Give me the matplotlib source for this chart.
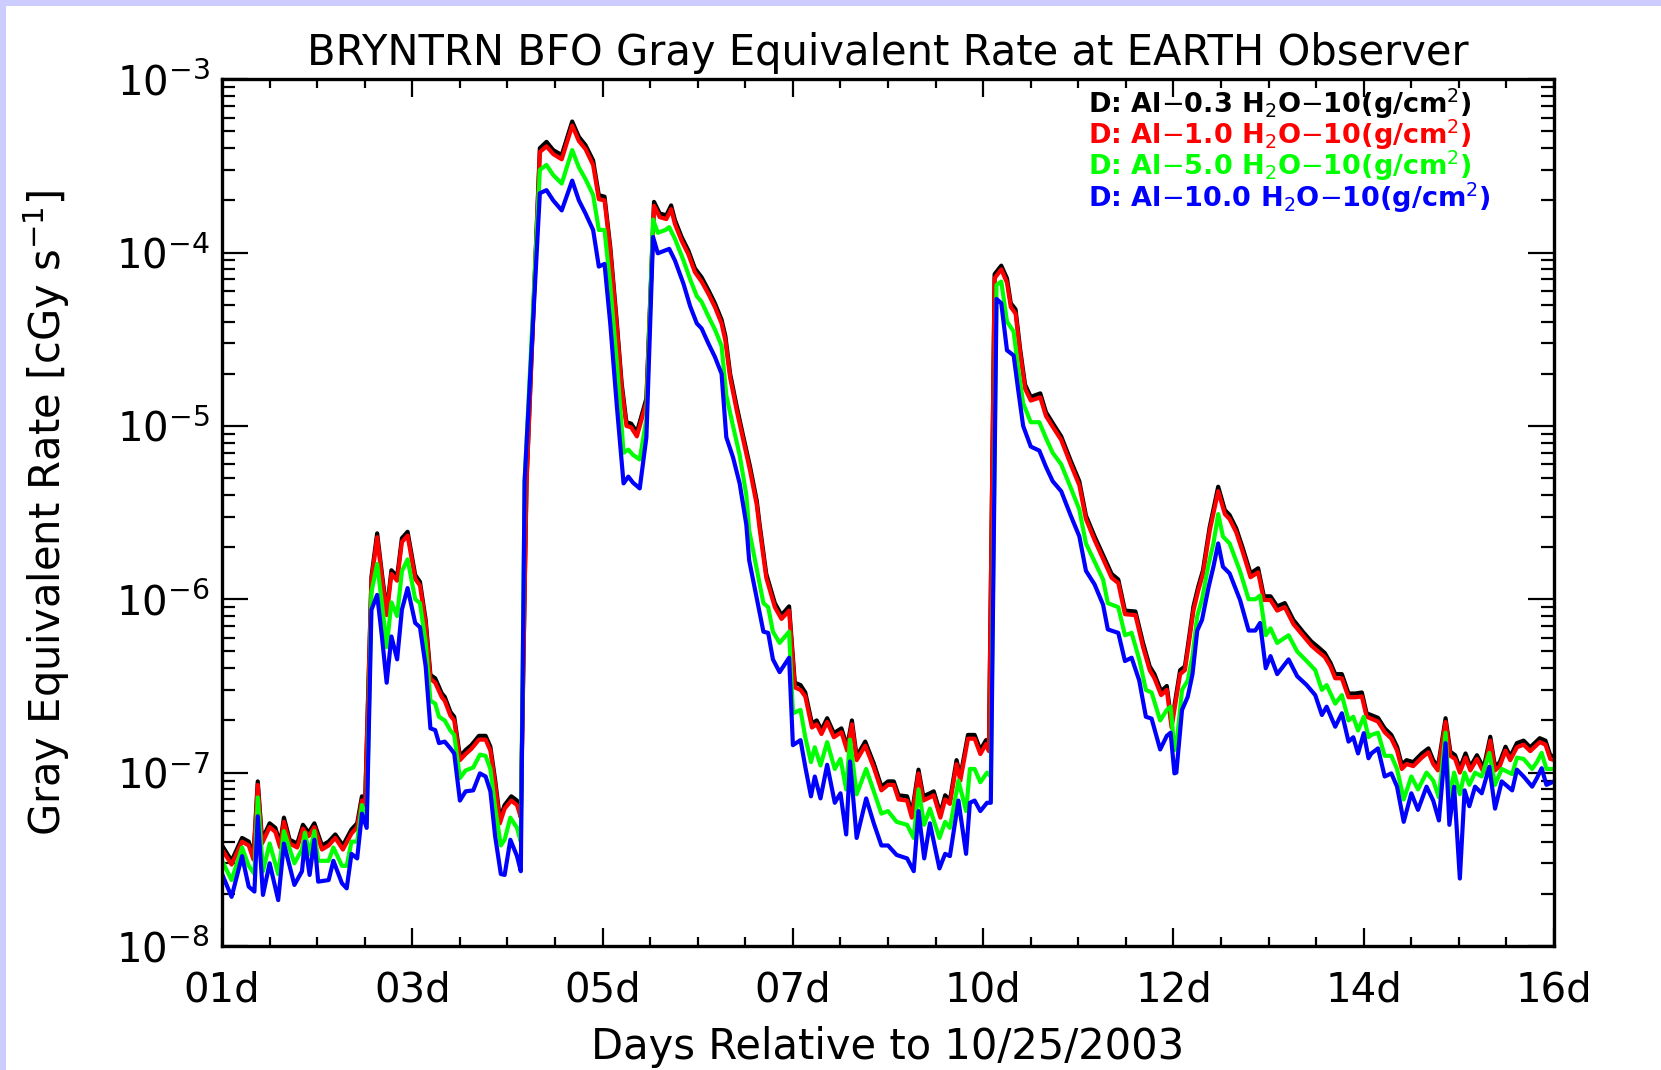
import numpy as np
import matplotlib.pyplot as plt
from matplotlib.patches import Rectangle
from matplotlib.ticker import FixedLocator, LogLocator, NullFormatter

# x in "tick units": major ticks at 1,3,...,15 labelled below
day_ticks = [1, 3, 5, 7, 9, 11, 13, 15]
day_labels = ['01d', '03d', '05d', '07d', '10d', '12d', '14d', '16d']

# Al-0.3 (black) and Al-1.0 (red) share one x grid
x_bk = [1.00, 1.10, 1.21, 1.28, 1.33, 1.375, 1.42, 1.50, 1.56, 1.61,
        1.65, 1.71, 1.79, 1.85, 1.91, 1.97, 2.05, 2.12, 2.19, 2.27,
        2.36, 2.42, 2.47, 2.50, 2.57, 2.63, 2.68, 2.73, 2.78, 2.84,
        2.89, 2.95, 3.03, 3.08, 3.14, 3.19, 3.24, 3.31, 3.34, 3.40,
        3.44, 3.50, 3.56, 3.62, 3.70, 3.77, 3.82, 3.87, 3.92, 3.97,
        4.04, 4.10, 4.14, 4.20, 4.34, 4.41, 4.48, 4.57, 4.68, 4.75,
        4.82, 4.90, 4.96, 5.02, 5.08, 5.15, 5.20, 5.25, 5.30, 5.36,
        5.41, 5.46, 5.54, 5.60, 5.67, 5.72, 5.76, 5.83, 5.90, 5.97,
        6.04, 6.11, 6.18, 6.25, 6.29, 6.34, 6.41, 6.48, 6.55, 6.62,
        6.65, 6.72, 6.81, 6.88, 6.96, 7.02, 7.08, 7.13, 7.20, 7.25,
        7.30, 7.36, 7.43, 7.51, 7.57, 7.62, 7.67, 7.76, 7.85, 7.93,
        8.00, 8.06, 8.11, 8.20, 8.25, 8.32, 8.37, 8.44, 8.48, 8.55,
        8.60, 8.65, 8.72, 8.76, 8.84, 8.91, 8.97, 9.03, 9.06, 9.12,
        9.19, 9.25, 9.29, 9.34, 9.39, 9.44, 9.50, 9.60, 9.66, 9.73,
        9.82, 9.92, 10.01, 10.08, 10.17, 10.26, 10.35, 10.42, 10.49, 10.60,
        10.68, 10.75, 10.80, 10.87, 10.93, 10.98, 11.07, 11.12, 11.16, 11.21,
        11.26, 11.31, 11.38, 11.47, 11.54, 11.59, 11.66, 11.73, 11.81, 11.89,
        11.95, 12.02, 12.09, 12.17, 12.26, 12.37, 12.45, 12.52, 12.59, 12.65,
        12.70, 12.77, 12.84, 12.91, 12.98, 13.03, 13.15, 13.22, 13.29, 13.35,
        13.40, 13.45, 13.52, 13.61, 13.68, 13.73, 13.78, 13.86, 13.91, 13.96,
        14.01, 14.07, 14.12, 14.19, 14.26, 14.33, 14.38, 14.43, 14.49, 14.54,
        14.61, 14.68, 14.75, 14.85, 14.91, 14.96, 15.00]

al03 = [3.8e-8, 3.1e-8, 4.2e-8, 4.0e-8, 3.3e-8, 8.9e-8, 4.1e-8, 5.1e-8, 4.8e-8, 3.9e-8,
        5.5e-8, 4.1e-8, 3.9e-8, 5.0e-8, 4.5e-8, 5.1e-8, 3.8e-8, 4.0e-8, 4.4e-8, 3.8e-8,
        4.7e-8, 5.1e-8, 7.3e-8, 5.8e-8, 1.35e-6, 2.4e-6, 1.41e-6, 8.5e-7, 1.47e-6, 1.35e-6,
        2.25e-6, 2.45e-6, 1.38e-6, 1.26e-6, 7.6e-7, 3.66e-7, 3.5e-7, 2.86e-7, 2.74e-7, 2.24e-7,
        2.1e-7, 1.24e-7, 1.35e-7, 1.44e-7, 1.63e-7, 1.63e-7, 1.41e-7, 9.1e-8, 5.4e-8, 6.5e-8,
        7.3e-8, 6.9e-8, 5.8e-8, 4.8e-6, 4.0e-4, 4.35e-4, 3.9e-4, 3.65e-4, 5.7e-4, 4.65e-4,
        4.16e-4, 3.4e-4, 2.14e-4, 2.1e-4, 1.08e-4, 3.9e-5, 1.76e-5, 1.05e-5, 1.03e-5, 9.2e-6,
        1.15e-5, 1.44e-5, 1.96e-4, 1.68e-4, 1.64e-4, 1.87e-4, 1.54e-4, 1.23e-4, 1.03e-4, 8.1e-5,
        7.2e-5, 6.1e-5, 5.1e-5, 4.1e-5, 3.3e-5, 2.0e-5, 1.29e-5, 8.6e-6, 5.8e-6, 3.7e-6,
        2.7e-6, 1.4e-6, 9.5e-7, 8.1e-7, 9.1e-7, 3.3e-7, 3.2e-7, 2.9e-7, 1.92e-7, 2.0e-7,
        1.76e-7, 2.06e-7, 1.69e-7, 1.8e-7, 1.41e-7, 2.0e-7, 1.24e-7, 1.51e-7, 1.13e-7, 8.3e-8,
        8.9e-8, 8.9e-8, 7.4e-8, 7.3e-8, 5.8e-8, 1.04e-7, 7.3e-8, 7.6e-8, 7.8e-8, 5.8e-8,
        7.4e-8, 6.9e-8, 1.18e-7, 9.5e-8, 1.65e-7, 1.65e-7, 1.35e-7, 1.54e-7, 1.40e-7, 7.5e-5,
        8.4e-5, 7.1e-5, 5.1e-5, 4.7e-5, 2.73e-5, 1.73e-5, 1.47e-5, 1.54e-5, 1.2e-5, 1.04e-5,
        8.7e-6, 6.3e-6, 4.8e-6, 3.04e-6, 2.31e-6, 1.8e-6, 1.4e-6, 1.3e-6, 8.6e-7, 8.5e-7,
        5.6e-7, 4.1e-7, 3.7e-7, 2.95e-7, 3.16e-7, 1.92e-7, 3.9e-7, 4.1e-7, 5.8e-7, 9.1e-7,
        1.18e-6, 1.47e-6, 2.6e-6, 4.46e-6, 3.27e-6, 3.06e-6, 2.56e-6, 1.96e-6, 1.41e-6, 1.51e-6,
        1.04e-6, 1.04e-6, 9.1e-7, 9.5e-7, 7.6e-7, 6.4e-7, 5.7e-7, 5.3e-7, 4.9e-7, 4.3e-7,
        3.7e-7, 3.7e-7, 2.86e-7, 2.86e-7, 2.9e-7, 2.2e-7, 2.07e-7, 1.8e-7, 1.65e-7, 1.41e-7,
        1.11e-7, 1.18e-7, 1.15e-7, 1.29e-7, 1.38e-7, 1.18e-7, 1.08e-7, 2.06e-7, 1.32e-7, 1.26e-7,
        1.06e-7, 1.29e-7, 1.08e-7, 1.26e-7, 1.06e-7, 1.61e-7, 1.08e-7, 1.15e-7, 1.41e-7, 1.24e-7,
        1.48e-7, 1.53e-7, 1.4e-7, 1.58e-7, 1.53e-7, 1.26e-7, 1.24e-7]

al10 = [3.6e-8, 2.95e-8, 4.0e-8, 3.8e-8, 3.15e-8, 8.5e-8, 3.9e-8, 4.85e-8, 4.55e-8, 3.7e-8,
        5.2e-8, 3.9e-8, 3.7e-8, 4.75e-8, 4.3e-8, 4.85e-8, 3.6e-8, 3.8e-8, 4.2e-8, 3.6e-8,
        4.45e-8, 4.85e-8, 6.9e-8, 5.5e-8, 1.28e-6, 2.28e-6, 1.34e-6, 8.1e-7, 1.4e-6, 1.28e-6,
        2.14e-6, 2.33e-6, 1.31e-6, 1.2e-6, 7.2e-7, 3.48e-7, 3.3e-7, 2.72e-7, 2.6e-7, 2.13e-7,
        2.0e-7, 1.18e-7, 1.28e-7, 1.37e-7, 1.55e-7, 1.55e-7, 1.34e-7, 8.6e-8, 5.1e-8, 6.2e-8,
        6.9e-8, 6.5e-8, 5.5e-8, 4.6e-6, 3.8e-4, 4.1e-4, 3.7e-4, 3.45e-4, 5.4e-4, 4.4e-4,
        3.95e-4, 3.2e-4, 2.03e-4, 2.0e-4, 1.03e-4, 3.7e-5, 1.67e-5, 1.0e-5, 9.8e-6, 8.7e-6,
        1.09e-5, 1.37e-5, 1.86e-4, 1.6e-4, 1.56e-4, 1.78e-4, 1.46e-4, 1.17e-4, 9.8e-5, 7.7e-5,
        6.8e-5, 5.8e-5, 4.85e-5, 3.9e-5, 3.1e-5, 1.9e-5, 1.22e-5, 8.2e-6, 5.5e-6, 3.5e-6,
        2.56e-6, 1.33e-6, 9.0e-7, 7.7e-7, 8.6e-7, 3.1e-7, 3.0e-7, 2.75e-7, 1.82e-7, 1.9e-7,
        1.67e-7, 1.96e-7, 1.6e-7, 1.71e-7, 1.34e-7, 1.9e-7, 1.18e-7, 1.43e-7, 1.07e-7, 7.9e-8,
        8.5e-8, 8.5e-8, 7.0e-8, 6.9e-8, 5.5e-8, 9.9e-8, 6.9e-8, 7.2e-8, 7.4e-8, 5.5e-8,
        7.0e-8, 6.6e-8, 1.12e-7, 9.0e-8, 1.57e-7, 1.57e-7, 1.28e-7, 1.46e-7, 1.33e-7, 7.1e-5,
        8.0e-5, 6.7e-5, 4.85e-5, 4.45e-5, 2.6e-5, 1.64e-5, 1.4e-5, 1.46e-5, 1.14e-5, 9.9e-6,
        8.3e-6, 6.0e-6, 4.55e-6, 2.9e-6, 2.2e-6, 1.71e-6, 1.33e-6, 1.24e-6, 8.2e-7, 8.1e-7,
        5.3e-7, 3.9e-7, 3.5e-7, 2.8e-7, 3.0e-7, 1.82e-7, 3.7e-7, 3.9e-7, 5.5e-7, 8.6e-7,
        1.12e-6, 1.4e-6, 2.47e-6, 4.2e-6, 3.1e-6, 2.9e-6, 2.43e-6, 1.86e-6, 1.34e-6, 1.43e-6,
        9.9e-7, 9.9e-7, 8.6e-7, 9.0e-7, 7.2e-7, 6.1e-7, 5.4e-7, 5.0e-7, 4.65e-7, 4.1e-7,
        3.5e-7, 3.5e-7, 2.72e-7, 2.72e-7, 2.75e-7, 2.1e-7, 1.97e-7, 1.71e-7, 1.57e-7, 1.34e-7,
        1.05e-7, 1.12e-7, 1.09e-7, 1.22e-7, 1.31e-7, 1.12e-7, 1.03e-7, 1.96e-7, 1.25e-7, 1.2e-7,
        1.0e-7, 1.22e-7, 1.03e-7, 1.2e-7, 1.0e-7, 1.53e-7, 1.03e-7, 1.09e-7, 1.34e-7, 1.18e-7,
        1.4e-7, 1.45e-7, 1.33e-7, 1.5e-7, 1.45e-7, 1.2e-7, 1.18e-7]

# Al-5.0 (green) and Al-10.0 (blue) share another x grid
x_bl = [1.00, 1.10, 1.21, 1.28, 1.34, 1.375, 1.43, 1.50, 1.59, 1.65,
        1.76, 1.84, 1.87, 1.92, 1.97, 2.01, 2.12, 2.17, 2.26, 2.31,
        2.36, 2.42, 2.47, 2.52, 2.57, 2.63, 2.68, 2.73, 2.78, 2.84,
        2.89, 2.95, 3.03, 3.08, 3.14, 3.19, 3.24, 3.28, 3.34, 3.40,
        3.44, 3.50, 3.56, 3.64, 3.71, 3.77, 3.82, 3.87, 3.93, 3.97,
        4.03, 4.10, 4.14, 4.18, 4.34, 4.41, 4.48, 4.57, 4.68, 4.75,
        4.82, 4.90, 4.96, 5.02, 5.08, 5.15, 5.22, 5.27, 5.32, 5.39,
        5.46, 5.53, 5.58, 5.66, 5.70, 5.76, 5.85, 5.92, 5.99, 6.04,
        6.11, 6.18, 6.25, 6.30, 6.37, 6.44, 6.51, 6.54, 6.69, 6.74,
        6.79, 6.86, 6.96, 7.00, 7.08, 7.13, 7.19, 7.23, 7.29, 7.36,
        7.44, 7.50, 7.56, 7.60, 7.67, 7.77, 7.85, 7.93, 8.00, 8.09,
        8.20, 8.27, 8.32, 8.38, 8.44, 8.54, 8.60, 8.65, 8.74, 8.82,
        8.86, 8.91, 8.97, 9.04, 9.08, 9.14, 9.19, 9.25, 9.32, 9.37,
        9.42, 9.50, 9.59, 9.66, 9.73, 9.82, 9.92, 10.01, 10.08, 10.17,
        10.26, 10.31, 10.42, 10.49, 10.56, 10.64, 10.71, 10.77, 10.86, 10.93,
        10.97, 11.01, 11.03, 11.09, 11.15, 11.20, 11.25, 11.30, 11.37, 11.42,
        11.47, 11.52, 11.59, 11.70, 11.79, 11.86, 11.91, 11.97, 12.02, 12.09,
        12.21, 12.30, 12.40, 12.49, 12.56, 12.61, 12.70, 12.77, 12.84, 12.89,
        12.94, 13.00, 13.05, 13.08, 13.15, 13.22, 13.29, 13.35, 13.42, 13.50,
        13.57, 13.66, 13.73, 13.79, 13.86, 13.90, 13.95, 14.01, 14.06, 14.11,
        14.17, 14.24, 14.32, 14.38, 14.45, 14.56, 14.61, 14.68, 14.77, 14.82,
        14.87, 14.92, 15.00]

al50 = [3.1e-8, 2.4e-8, 3.7e-8, 2.9e-8, 2.6e-8, 7.2e-8, 2.7e-8, 3.9e-8, 2.6e-8, 4.6e-8,
        3.0e-8, 3.6e-8, 4.5e-8, 3.4e-8, 4.6e-8, 3.1e-8, 3.1e-8, 3.7e-8, 2.9e-8, 2.9e-8,
        4.0e-8, 4.0e-8, 6.5e-8, 5.3e-8, 1.1e-6, 1.6e-6, 9.5e-7, 5.3e-7, 9.6e-7, 8.0e-7,
        1.45e-6, 1.7e-6, 1.0e-6, 9.5e-7, 5.6e-7, 2.6e-7, 2.5e-7, 2.1e-7, 2.0e-7, 1.75e-7,
        1.65e-7, 9.3e-8, 1.03e-7, 1.07e-7, 1.27e-7, 1.25e-7, 1.05e-7, 6.3e-8, 3.8e-8, 4.1e-8,
        5.5e-8, 4.8e-8, 4.0e-8, 4.8e-6, 3.0e-4, 3.2e-4, 2.8e-4, 2.5e-4, 3.9e-4, 3.1e-4,
        2.65e-4, 2.15e-4, 1.35e-4, 1.35e-4, 6.5e-5, 2.3e-5, 7.0e-6, 7.3e-6, 6.8e-6, 6.4e-6,
        1.1e-5, 1.55e-4, 1.3e-4, 1.35e-4, 1.4e-4, 1.2e-4, 9.0e-5, 7.0e-5, 5.6e-5, 5.2e-5,
        4.3e-5, 3.6e-5, 2.9e-5, 1.5e-5, 1.0e-5, 6.8e-6, 4.0e-6, 2.5e-6, 9.5e-7, 9.0e-7,
        6.5e-7, 5.6e-7, 6.5e-7, 2.2e-7, 2.3e-7, 1.6e-7, 1.15e-7, 1.4e-7, 1.1e-7, 1.5e-7,
        1.05e-7, 1.2e-7, 8.0e-8, 1.55e-7, 7.5e-8, 1.05e-7, 7.8e-8, 5.8e-8, 6.0e-8, 5.2e-8,
        5.0e-8, 4.2e-8, 8.0e-8, 5.0e-8, 6.2e-8, 4.2e-8, 5.2e-8, 4.8e-8, 9.0e-8, 6.0e-8,
        1.05e-7, 1.05e-7, 8.8e-8, 1.0e-7, 9.5e-8, 6.5e-5, 6.8e-5, 4.0e-5, 3.5e-5, 2.1e-5,
        1.35e-5, 1.05e-5, 1.05e-5, 8.5e-6, 7.0e-6, 6.0e-6, 4.4e-6, 3.3e-6, 2.1e-6, 1.65e-6,
        1.3e-6, 9.5e-7, 9.0e-7, 6.2e-7, 6.4e-7, 4.5e-7, 3.0e-7, 2.9e-7, 2.0e-7, 2.3e-7,
        2.4e-7, 1.35e-7, 1.4e-7, 3.0e-7, 3.4e-7, 4.7e-7, 8.0e-7, 1.0e-6, 1.6e-6, 2.1e-6,
        3.1e-6, 2.3e-6, 2.1e-6, 1.45e-6, 1.0e-6, 1.0e-6, 1.05e-6, 6.2e-7, 6.8e-7, 5.6e-7,
        6.2e-7, 5.0e-7, 4.4e-7, 3.9e-7, 3.0e-7, 3.2e-7, 2.5e-7, 2.8e-7, 2.0e-7, 2.1e-7,
        1.75e-7, 2.1e-7, 1.6e-7, 1.65e-7, 1.7e-7, 1.25e-7, 1.25e-7, 1.05e-7, 7.0e-8, 9.5e-8,
        8.0e-8, 1.0e-7, 9.0e-8, 7.2e-8, 1.7e-7, 7.0e-8, 1.0e-7, 7.5e-8, 1.0e-7, 8.5e-8,
        1.0e-7, 9.5e-8, 1.3e-7, 8.5e-8, 1.05e-7, 9.8e-8, 1.22e-7, 1.2e-7, 1.05e-7, 1.15e-7,
        1.3e-7, 1.05e-7, 1.05e-7]

al100 = [2.6e-8, 1.92e-8, 3.3e-8, 2.2e-8, 2.06e-8, 5.6e-8, 1.97e-8, 3.0e-8, 1.84e-8, 3.9e-8,
         2.25e-8, 2.7e-8, 4.0e-8, 2.57e-8, 4.1e-8, 2.35e-8, 2.4e-8, 3.1e-8, 2.3e-8, 2.15e-8,
         3.4e-8, 3.2e-8, 5.8e-8, 4.8e-8, 8.7e-7, 1.06e-6, 6.1e-7, 3.3e-7, 6.1e-7, 4.5e-7,
         8.7e-7, 1.16e-6, 7.3e-7, 6.9e-7, 4.1e-7, 1.8e-7, 1.76e-7, 1.48e-7, 1.51e-7, 1.38e-7,
         1.29e-7, 6.9e-8, 7.8e-8, 7.9e-8, 9.9e-8, 9.5e-8, 7.8e-8, 4.3e-8, 2.6e-8, 2.57e-8,
         4.1e-8, 3.3e-8, 2.7e-8, 4.8e-6, 2.2e-4, 2.29e-4, 2.0e-4, 1.75e-4, 2.6e-4, 2.0e-4,
         1.68e-4, 1.35e-4, 8.3e-5, 8.6e-5, 3.9e-5, 1.29e-5, 4.66e-6, 5.1e-6, 4.7e-6, 4.36e-6,
         8.6e-6, 1.23e-4, 9.9e-5, 1.03e-4, 1.05e-4, 9.0e-5, 6.6e-5, 4.9e-5, 3.9e-5, 3.65e-5,
         3.0e-5, 2.5e-5, 2.0e-5, 8.6e-6, 6.6e-6, 4.66e-6, 2.7e-6, 1.68e-6, 6.5e-7, 6.4e-7,
         4.5e-7, 3.8e-7, 4.6e-7, 1.44e-7, 1.54e-7, 1.08e-7, 7.3e-8, 9.5e-8, 7.1e-8, 1.11e-7,
         6.7e-8, 7.6e-8, 4.4e-8, 1.16e-7, 4.2e-8, 7.1e-8, 5.1e-8, 3.8e-8, 3.8e-8, 3.35e-8,
         3.2e-8, 2.7e-8, 6.0e-8, 3.2e-8, 5.1e-8, 2.8e-8, 3.4e-8, 3.3e-8, 6.9e-8, 3.4e-8,
         6.7e-8, 6.9e-8, 6.0e-8, 6.7e-8, 6.7e-8, 5.4e-5, 5.1e-5, 2.73e-5, 2.55e-5, 1.58e-5,
         1.0e-5, 7.6e-6, 7.2e-6, 5.8e-6, 4.8e-6, 4.2e-6, 3.04e-6, 2.31e-6, 1.46e-6, 1.22e-6,
         9.3e-7, 6.7e-7, 6.4e-7, 4.4e-7, 4.6e-7, 3.4e-7, 2.1e-7, 2.05e-7, 1.36e-7, 1.63e-7,
         1.7e-7, 9.9e-8, 1.0e-7, 2.3e-7, 2.74e-7, 3.7e-7, 6.6e-7, 7.6e-7, 1.18e-6, 1.54e-6,
         2.1e-6, 1.54e-6, 1.41e-6, 9.9e-7, 6.6e-7, 6.6e-7, 7.3e-7, 4.0e-7, 4.7e-7, 3.7e-7,
         4.5e-7, 3.6e-7, 3.2e-7, 2.8e-7, 2.15e-7, 2.4e-7, 1.84e-7, 2.2e-7, 1.51e-7, 1.6e-7,
         1.29e-7, 1.69e-7, 1.21e-7, 1.29e-7, 1.38e-7, 9.5e-8, 9.9e-8, 8.3e-8, 5.2e-8, 7.6e-8,
         6.1e-8, 8.3e-8, 6.9e-8, 5.3e-8, 1.48e-7, 5.0e-8, 8.3e-8, 2.45e-8, 7.9e-8, 6.4e-8,
         8.3e-8, 7.6e-8, 1.08e-7, 6.2e-8, 8.9e-8, 7.9e-8, 1.04e-7, 9.5e-8, 8.3e-8, 9.3e-8,
         1.06e-7, 8.5e-8, 8.9e-8]

legend_labels = [r'D: Al$-$0.3 H$_2$O$-$10(g/cm$^2$)',
                 r'D: Al$-$1.0 H$_2$O$-$10(g/cm$^2$)',
                 r'D: Al$-$5.0 H$_2$O$-$10(g/cm$^2$)',
                 r'D: Al$-$10.0 H$_2$O$-$10(g/cm$^2$)']
colors = ['black', '#ff0000', '#00ff00', '#0000ff']

fig = plt.figure(figsize=(16.61, 10.70), dpi=100)
fig.patch.set_facecolor('#ccccff')
# white page with lavender strip on top and left
fig.patches.append(Rectangle((6 / 1661, 0), 1, 1 - 6 / 1070, transform=fig.transFigure,
                             facecolor='white', edgecolor='none', zorder=-10))

ax = fig.add_axes([0.1337, 0.1159, 0.9356 - 0.1337, 0.926 - 0.1159])

series = [(x_bk, al03), (x_bk, al10), (x_bl, al50), (x_bl, al100)]
for (xs, ys), c in zip(series, colors):
    ax.plot(xs, ys, color=c, lw=3.0, solid_joinstyle='round')

ax.set_yscale('log')
ax.set_ylim(1e-8, 1e-3)
ax.set_xlim(1, 15)

ax.set_xticks(day_ticks)
ax.set_xticklabels(day_labels)
ax.xaxis.set_minor_locator(FixedLocator(np.arange(1, 15.01, 0.5)))
ax.yaxis.set_major_locator(LogLocator(base=10, numticks=10))
ax.yaxis.set_minor_locator(LogLocator(base=10, subs=np.arange(2, 10), numticks=20))
ax.yaxis.set_minor_formatter(NullFormatter())

ax.tick_params(axis='both', which='both', direction='in', top=True, right=True, width=1.6)
ax.tick_params(axis='x', which='major', length=13, labelsize=29, pad=18)
ax.tick_params(axis='x', which='minor', length=6.5)
ax.tick_params(axis='y', which='major', length=19, labelsize=29, pad=9)
ax.tick_params(axis='y', which='minor', length=9.5)
for s in ax.spines.values():
    s.set_linewidth(2.4)

ax.set_title('BRYNTRN BFO Gray Equivalent Rate at EARTH Observer', fontsize=30, pad=10)
ax.set_xlabel('Days Relative to 10/25/2003', fontsize=30)
ax.set_ylabel(r'Gray Equivalent Rate [cGy s$^{-1}$]', fontsize=30)
ax.xaxis.set_label_coords(0.5, -0.092)
ax.yaxis.set_label_coords(-0.113, 0.5)

for i, (lab, c) in enumerate(zip(legend_labels, colors)):
    ax.text(0.650, 0.972 - i * 0.0362, lab, color=c, fontsize=19.5, fontweight='bold',
            transform=ax.transAxes, va='center', ha='left')

fig.savefig('out.png', dpi=100, facecolor=fig.get_facecolor())
